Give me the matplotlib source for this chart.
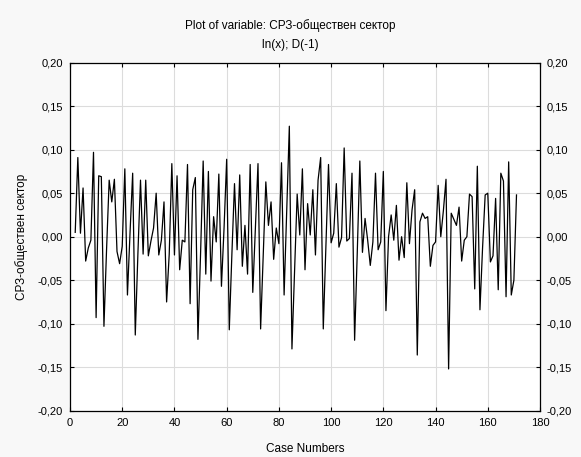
import matplotlib
matplotlib.use("Agg")
import matplotlib.pyplot as plt
from matplotlib.ticker import FuncFormatter, MultipleLocator

plt.rcParams['font.family'] = ['Liberation Sans', 'DejaVu Sans']

start_case = 2
values = [
    0.005, 0.091, 0.004, 0.056, -0.028, -0.013, -0.004, 0.097, -0.093, 0.070,
    0.069, -0.103, -0.015, 0.065, 0.040, 0.066, -0.017, -0.031, -0.011, 0.078,
    -0.067, 0.005, 0.073, -0.113, -0.020, 0.065, -0.020, 0.065, -0.022, -0.005,
    0.010, 0.050, -0.021, -0.004, 0.040, -0.075, -0.020, 0.084, -0.021, 0.070,
    -0.038, -0.004, -0.006, 0.083, -0.077, 0.054, 0.068, -0.118, -0.020, 0.087,
    -0.043, 0.075, -0.051, 0.023, -0.006, 0.072, -0.057, 0.010, 0.089, -0.107,
    -0.020, 0.061, -0.015, 0.071, -0.034, 0.013, -0.043, 0.083, -0.064, 0.010,
    0.084, -0.106, -0.020, 0.063, 0.013, 0.040, -0.026, 0.010, -0.008, 0.085,
    -0.067, 0.030, 0.127, -0.129, -0.040, 0.049, 0.002, 0.078, -0.038, 0.038,
    0.002, 0.054, -0.021, 0.065, 0.091, -0.106, -0.010, 0.083, -0.007, 0.004,
    0.061, -0.012, -0.001, 0.102, -0.005, -0.002, 0.073, -0.119, -0.020, 0.087,
    -0.018, 0.021, -0.004, -0.033, -0.006, 0.073, -0.015, -0.006, 0.075, -0.085,
    0.000, 0.025, -0.004, 0.036, -0.027, 0.000, -0.024, 0.062, -0.008, 0.031,
    0.054, -0.136, 0.017, 0.027, 0.021, 0.023, -0.034, -0.010, -0.006, 0.059,
    0.000, 0.030, 0.066, -0.152, 0.027, 0.020, 0.013, 0.034, -0.028, -0.004,
    0.000, 0.049, 0.046, -0.060, 0.081, -0.084, -0.013, 0.048, 0.050, -0.029,
    -0.022, 0.044, -0.061, 0.073, 0.064, -0.069, 0.086, -0.067, -0.050, 0.048,
]
cases = list(range(start_case, start_case + len(values)))

title_line1 = "Plot of variable: СРЗ-обществен сектор"
title_line2 = "ln(x); D(-1)"
x_label = "Case Numbers"
y_label = "СРЗ-обществен сектор"

fig = plt.figure(figsize=(5.81, 4.57), dpi=100, facecolor='#f8f8f8')
ax = fig.add_axes([70/581, 1 - 410.7/457, 470/581, 348/457])
ax.set_facecolor('white')

ax.plot(cases, values, color='black', linewidth=0.9)

ax.set_xlim(0, 180)
ax.set_ylim(-0.20, 0.20)
ax.xaxis.set_major_locator(MultipleLocator(20))
ax.yaxis.set_major_locator(MultipleLocator(0.05))
ax.yaxis.set_major_formatter(FuncFormatter(lambda v, p: f"{v:.2f}".replace('.', ',').replace('-0,00', '0,00')))
ax.grid(True, color='#dcdcdc', linewidth=0.8)
ax.set_axisbelow(True)

ax.tick_params(axis='both', which='both', direction='in', length=3, width=0.8,
               labelsize=8, top=True, right=True, labelright=True, pad=5)
for s in ax.spines.values():
    s.set_color('black')
    s.set_linewidth(0.9)

ax.set_xlabel(x_label, fontsize=8.5, labelpad=11)
ax.set_ylabel(y_label, fontsize=8.5, labelpad=7)

fig.text(0.5, 1 - 26/457, title_line1, ha='center', va='center', fontsize=8.5)
fig.text(0.5, 1 - 45/457, title_line2, ha='center', va='center', fontsize=8.5)

fig.savefig("out.png", dpi=100, facecolor=fig.get_facecolor())
